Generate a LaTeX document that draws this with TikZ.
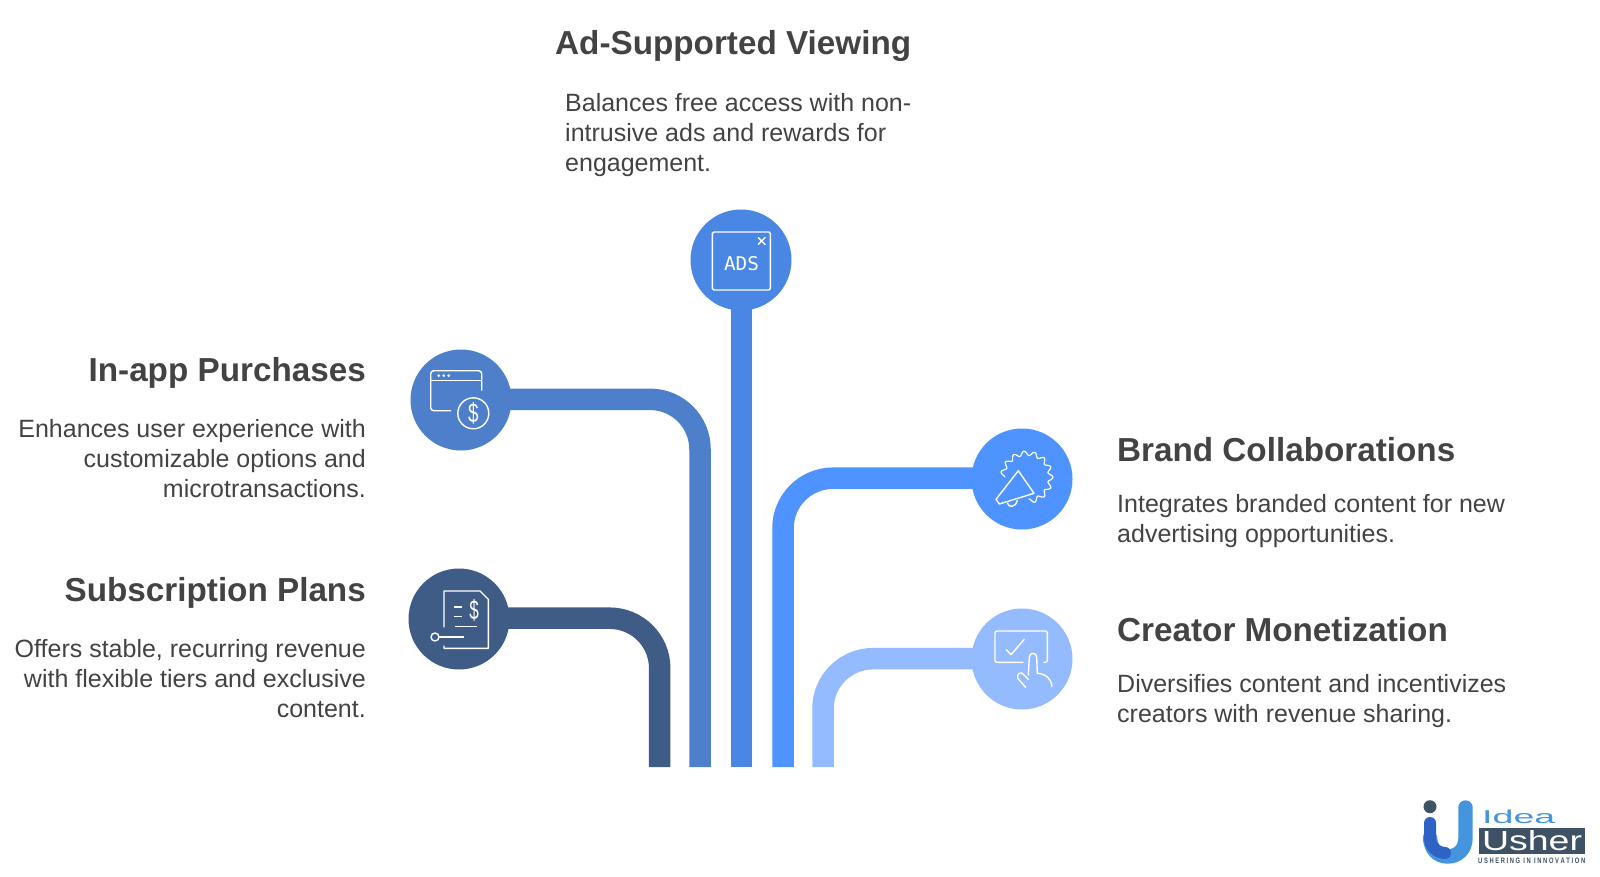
\documentclass[tikz,border=0pt]{standalone}
\usepackage{graphicx}
\usepackage{fontspec}
\setmainfont{Liberation Sans}
\newfontfamily\monof{DejaVu Sans Mono}
\definecolor{txt}{HTML}{434343}
\definecolor{cAds}{HTML}{4A86E4}
\definecolor{cApp}{HTML}{4E7FCB}
\definecolor{cSub}{HTML}{3F5C87}
\definecolor{cBrand}{HTML}{4E93FF}
\definecolor{cCreator}{HTML}{95BBFF}
\definecolor{logoDark}{HTML}{3F5164}
\definecolor{logoBlue}{HTML}{4595DE}
\definecolor{logoDeep}{HTML}{2E62C4}
\tikzset{
  disc/.style={circle,minimum size=101pt,inner sep=0pt,fill=#1},
  bar/.style={draw=#1,line width=21.5pt,rounded corners=50pt},
  ttl/.style={text=txt,font=\fontsize{33.25}{36}\selectfont\bfseries,inner sep=0pt},
  bodyL/.style={text=txt,font=\fontsize{25}{30}\selectfont,inner sep=0pt,align=left,anchor=base west},
  bodyR/.style={text=txt,font=\fontsize{25}{30}\selectfont,inner sep=0pt,align=right,anchor=base east},
  ico/.style={draw=white,line width=1.4pt,line join=round},
  icotxt/.style={text=white,inner sep=0pt}
}
\begin{document}
\begin{tikzpicture}[x=1pt,y=-1pt]
\useasboundingbox (0,0) rectangle (1600,877);
\fill[white] (0,0) rectangle (1600,877);
% free ends
\coordinate (adsEnd) at (741.5,767);
\coordinate (appEnd) at (700,767);
\coordinate (subEnd) at (659.7,767);
\coordinate (brandEnd) at (783,767);
\coordinate (creatorEnd) at (823,767);
% named anchors of the discs, so the bars can start under them
\coordinate (adsC) at (741.5,260);
\coordinate (appC) at (461,399.3);
\coordinate (subC) at (459,618.2);
\coordinate (brandC) at (1022,478.2);
\coordinate (creatorC) at (1022,658.7);
% connectors
\draw[bar=cAds] (adsC) -- (adsEnd);
\draw[bar=cApp] (appC) -| (appEnd);
\draw[bar=cSub] (subC) -| (subEnd);
\draw[bar=cBrand] (brandC) -| (brandEnd);
\draw[bar=cCreator] (creatorC) -| (creatorEnd);
% discs
\node[disc=cAds] (ads) at (741,260) {};
\node[disc=cApp] (app) at (461,400) {};
\node[disc=cSub] (sub) at (459,619) {};
\node[disc=cBrand] (brand) at (1022,479) {};
\node[disc=cCreator] (creator) at (1022,659) {};
% ADS icon
\draw[ico,rounded corners=1.5pt] (712.3,232) rectangle (770.3,290);
\draw[ico] (758,237.3) -- (765.4,244.7) (765.4,237.3) -- (758,244.7);
\node[icotxt] (adstxt) at (741.5,263.7) {\resizebox{35pt}{14pt}{\monof ADS}};
% in-app icon
\draw[ico,rounded corners=3pt] (481.7,390.5) -- (481.7,370.7) -- (430.7,370.7) -- (430.7,410.7) -- (451,410.7);
\draw[ico] (430.7,380.3) -- (481.7,380.3);
\fill[white] (438.7,375.7) circle (1.5) (443.7,375.7) circle (1.5) (448.7,375.7) circle (1.5);
\draw[ico] (473.3,413.3) circle (15.5);
\node[icotxt] (coin) at (473.3,413.3) {\resizebox{10.5pt}{20pt}{\$}};
% subscription icon
\draw[ico] (444,627.3) -- (444,591) -- (480,591) -- (488.3,599.3) -- (488.3,648.3) -- (444,648.3) -- (444,645.7);
\draw[ico] (454.3,607) -- (462.3,607) (454.3,616.7) -- (462.3,616.7) (455,626.7) -- (477.3,626.7);
\draw[ico] (435,637) circle (4);
\draw[ico] (439,637) -- (464,637);
\node[icotxt] (bill) at (474,610) {\resizebox{9.5pt}{20pt}{\$}};
% brand icon
\draw[ico,line width=1.2pt] plot[domain=180:-85,samples=160]
  ({1026.7+(24+2.2*cos(15*\x))*cos(\x)},{477.3-(24+2.2*cos(15*\x))*sin(\x)});
\draw[ico] (1018.3,470.7) -- (1034,493.3) -- (999.3,504) -- (996,499.3) -- cycle;
\draw[ico] (1007.3,502.7) .. controls (1008,508) and (1016,508) .. (1017.3,500);
% creator icon
\draw[ico,rounded corners=2pt] (1023.3,662.3) -- (995,662.3) -- (995,631) -- (1047.3,631) -- (1047.3,662.3) -- (1043.3,662.3);
\draw[ico] (1006,649.3) -- (1011,654.7) -- (1024.3,639.3);
\draw[ico,line cap=round] (1028.3,675) -- (1029.3,657.3) .. controls (1029.5,652) and (1036.5,652) .. (1036.7,657.3) -- (1037.3,673.3)
  .. controls (1046,674) and (1051,678) .. (1052,686.7);
\draw[ico,line cap=round] (1025.7,687.3) -- (1017.7,678.3) .. controls (1017,674) and (1020,672) .. (1022.3,673.3) -- (1028.3,679.3);
% texts
\node[ttl,anchor=base west] (t1) at (555,55) {Ad-Supported Viewing};
\node[bodyL] (b1) at (565,172) {Balances free access with non-\\intrusive ads and rewards for\\engagement.};
\node[ttl,anchor=base east] (t2) at (366,381) {In-app Purchases};
\node[bodyR] (b2) at (366,497.5) {Enhances user experience with\\customizable options and\\microtransactions.};
\node[ttl,anchor=base east] (t3) at (366,601) {Subscription Plans};
\node[bodyR] (b3) at (366,717.5) {Offers stable, recurring revenue\\with flexible tiers and exclusive\\content.};
\node[ttl,anchor=base west] (t4) at (1117,461) {Brand Collaborations};
\node[bodyL] (b4) at (1117,542.5) {Integrates branded content for new\\advertising opportunities.};
\node[ttl,anchor=base west] (t5) at (1117,641) {Creator Monetization};
\node[bodyL] (b5) at (1117,722.5) {Diversifies content and incentivizes\\creators with revenue sharing.};
% logo
\fill[logoDark] (1430,806.7) circle (6.5);
\draw[logoBlue,line width=14.4pt,line cap=round] (1465.5,807.5) -- (1465.5,838) .. controls (1465.5,849) and (1458,856.5) .. (1447.7,856.5) .. controls (1437,856.5) and (1431,849) .. (1430,838);
\draw[logoDeep,line width=12pt,line cap=round] (1430,823) -- (1430,838) .. controls (1430,847) and (1437,852.5) .. (1445,853);
\fill[logoDark] (1479,828) rectangle (1585,854);
\node[inner sep=0pt,text=logoBlue,anchor=south west] (lg1) at (1482,823.5) {\resizebox{73pt}{13.5pt}{Idea}};
\node[inner sep=0pt,text=white] (lg2) at (1532,841) {\resizebox{100pt}{20pt}{Usher}};
\node[inner sep=0pt,text=logoDark,anchor=south west] (lg3) at (1478,863.5) {\resizebox{107pt}{5.5pt}{\bfseries U S H E R I N G\ \ I N\ \ I N N O V A T I O N}};
\end{tikzpicture}
\end{document}
